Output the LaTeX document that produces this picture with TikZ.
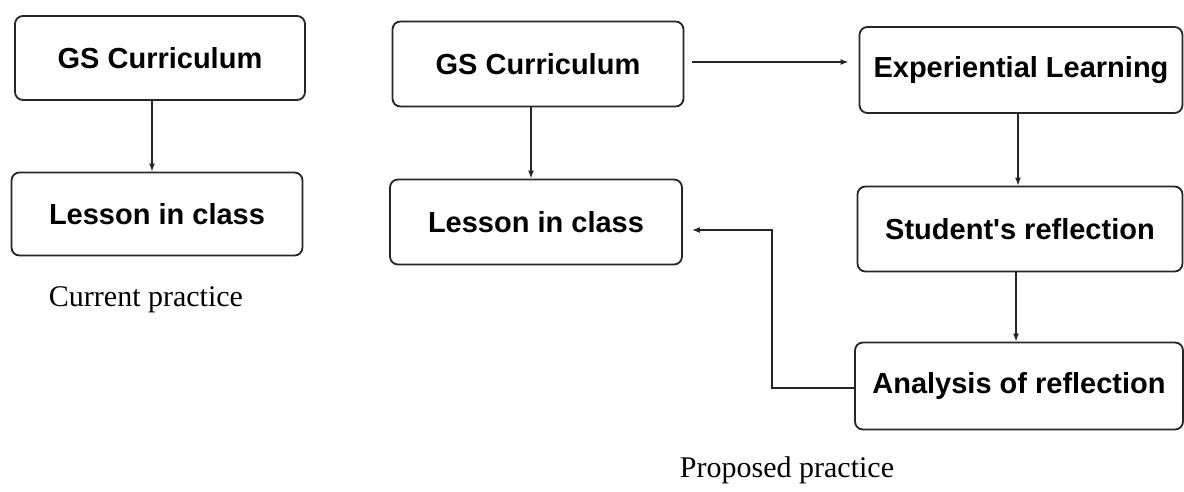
\documentclass[tikz,border=0pt]{standalone}
\usepackage{fontspec}
\setmainfont{Liberation Serif}
\newfontfamily\boxfont{Liberation Sans}
\usetikzlibrary{arrows.meta}

\begin{document}
\begin{tikzpicture}[>=Latex,x=1pt,y=1pt,
    stage/.style={draw=black!85,line width=1.8pt,rounded corners=8pt,
      inner sep=0pt,font=\boxfont\bfseries\fontsize{29}{33}\selectfont},
    link/.style={->,black!85,line width=1.3pt,>={Latex[length=8pt,width=6pt]}},
    caption/.style={font=\fontsize{30}{34}\selectfont}]
  \useasboundingbox (0,0) rectangle (1184,-492);
  % Current practice
  \node[stage,minimum width=290,minimum height=84] (curGS) at (160,-58) {GS Curriculum};
  \node[stage,minimum width=291,minimum height=83] (curLesson) at (157,-214) {Lesson in class};
  \node[caption] (curCap) at (146,-300) {Current practice};
  \draw[link] ([xshift=-8pt]curGS.south) -- ([xshift=-8pt]curGS.south |- curLesson.north);
  % Proposed practice
  \node[stage,minimum width=291,minimum height=85] (propGS) at (538,-64) {GS Curriculum};
  \node[stage,minimum width=292,minimum height=85] (propLesson) at (536,-222) {Lesson in class};
  \node[stage,minimum width=323,minimum height=86] (exp) at (1021,-70) {Experiential Learning};
  \node[stage,minimum width=325,minimum height=85] (refl) at (1020,-229) {Student's reflection};
  \node[stage,minimum width=328,minimum height=87] (anal) at (1019,-386) {Analysis of reflection};
  \node[caption] (propCap) at (787,-470) {Proposed practice};
  \draw[link] ([xshift=-7pt]propGS.south) -- ([xshift=-7pt]propGS.south |- propLesson.north);
  \draw[link,shorten <=8pt,shorten >=10pt] ([yshift=2pt]propGS.east) -- ([yshift=2pt]propGS.east -| exp.west);
  \draw[link] ([xshift=-3pt]exp.south) -- ([xshift=-3pt]exp.south |- refl.north);
  \draw[link] ([xshift=-4pt]refl.south) -- ([xshift=-4pt]refl.south |- anal.north);
  % loop back to the lesson
  \coordinate (turn) at (772,-230);
  \draw[link,shorten >=9pt] ([yshift=-2pt]anal.west) -| (turn) -- (turn -| propLesson.east);
\end{tikzpicture}
\end{document}
